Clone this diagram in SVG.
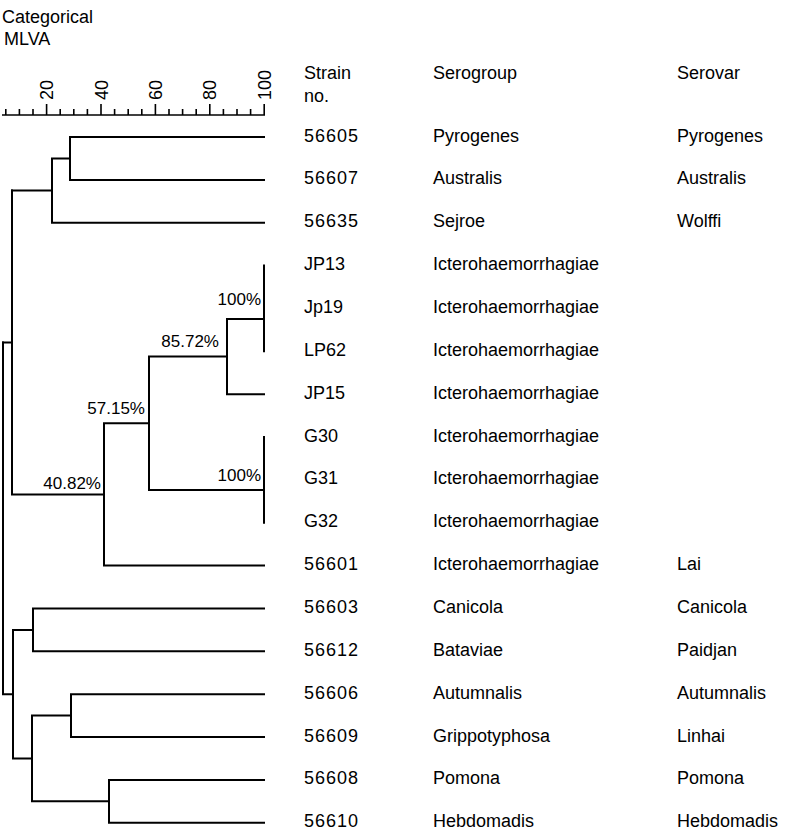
<svg xmlns="http://www.w3.org/2000/svg" width="786" height="832" viewBox="0 0 786 832">
<style>
text{font-family:"Liberation Sans",Arial,Helvetica,sans-serif;font-size:18px;fill:#000}
.s{letter-spacing:1px}
.pct{text-anchor:end;font-size:17px}
.ln{fill:none;stroke:#000;stroke-width:2;stroke-linecap:square}
.ax{fill:none;stroke:#000;stroke-width:1.6}
</style>
<rect width="786" height="832" fill="#fff"/>
<g id="title">
<text x="2" y="23">Categorical</text>
<text x="4" y="45">MLVA</text>
</g>
<g id="axis">
<path class="ax" d="M2 115H265"/>
<path class="ax" d="M5.8 115v-6M19.4 115v-6M33 115v-6M46.6 115v-11M60.2 115v-6M73.8 115v-6M87.4 115v-6M101 115v-11M114.6 115v-6M128.2 115v-6M141.8 115v-6M155.4 115v-11M169 115v-6M182.6 115v-6M196.2 115v-6M209.8 115v-11M223.4 115v-6M237 115v-6M250.6 115v-6M264.2 115v-11"/>
<text transform="translate(53.1 100) rotate(-90)">20</text>
<text transform="translate(107.5 100) rotate(-90)">40</text>
<text transform="translate(161.9 100) rotate(-90)">60</text>
<text transform="translate(216.3 100) rotate(-90)">80</text>
<text transform="translate(270.7 100) rotate(-90)">100</text>
</g>
<g id="headers">
<text x="304" y="79">Strain</text>
<text x="304" y="102">no.</text>
<text x="433" y="79">Serogroup</text>
<text x="677" y="79">Serovar</text>
</g>
<g id="connectors">
<path class="ln" d="M70 137H264M70 179.9H264M70 137V179.9M70 158.4H52M52 222.7H264M52 158.4V222.7M52 190.6H12"/>
<path class="ln" d="M264 265.6V351.3M227 319H264M227 394.2H264M227 319V394.2M227 356.6H149M149 490H264M264 437V522.7M149 356.6V490M149 423.3H104M104 565.6H264M104 423.3V565.6M104 494.5H12M12 190.6V494.5M12 342.5H3"/>
<path class="ln" d="M33 608.5H264M33 651.3H264M33 608.5V651.3M33 629.9H13M71 694.2H264M71 737H264M71 694.2V737M71 715.6H32M109 779.9H264M109 822.8H264M109 779.9V822.8M109 801.3H32M32 715.6V801.3M32 758.5H13M13 629.9V758.5M13 694.2H3M3 342.5V694.2"/>
</g>
<g id="support">
<text class="pct" x="261" y="305">100%</text>
<text class="pct" x="219" y="347">85.72%</text>
<text class="pct" x="145" y="414">57.15%</text>
<text class="pct" x="261" y="481">100%</text>
<text class="pct" x="101" y="489">40.82%</text>
</g>
<g id="row-56605"><text class="s" x="304" y="141.5">56605</text><text x="433" y="141.5">Pyrogenes</text><text x="677" y="141.5">Pyrogenes</text></g>
<g id="row-56607"><text class="s" x="304" y="184.4">56607</text><text x="433" y="184.4">Australis</text><text x="677" y="184.4">Australis</text></g>
<g id="row-56635"><text class="s" x="304" y="227.2">56635</text><text x="433" y="227.2">Sejroe</text><text x="677" y="227.2">Wolffi</text></g>
<g id="row-JP13"><text x="304" y="270.1">JP13</text><text x="433" y="270.1">Icterohaemorrhagiae</text></g>
<g id="row-Jp19"><text x="304" y="312.9">Jp19</text><text x="433" y="312.9">Icterohaemorrhagiae</text></g>
<g id="row-LP62"><text x="304" y="355.8">LP62</text><text x="433" y="355.8">Icterohaemorrhagiae</text></g>
<g id="row-JP15"><text x="304" y="398.7">JP15</text><text x="433" y="398.7">Icterohaemorrhagiae</text></g>
<g id="row-G30"><text x="304" y="441.5">G30</text><text x="433" y="441.5">Icterohaemorrhagiae</text></g>
<g id="row-G31"><text x="304" y="484.4">G31</text><text x="433" y="484.4">Icterohaemorrhagiae</text></g>
<g id="row-G32"><text x="304" y="527.2">G32</text><text x="433" y="527.2">Icterohaemorrhagiae</text></g>
<g id="row-56601"><text class="s" x="304" y="570.1">56601</text><text x="433" y="570.1">Icterohaemorrhagiae</text><text x="677" y="570.1">Lai</text></g>
<g id="row-56603"><text class="s" x="304" y="613">56603</text><text x="433" y="613">Canicola</text><text x="677" y="613">Canicola</text></g>
<g id="row-56612"><text class="s" x="304" y="655.8">56612</text><text x="433" y="655.8">Bataviae</text><text x="677" y="655.8">Paidjan</text></g>
<g id="row-56606"><text class="s" x="304" y="698.7">56606</text><text x="433" y="698.7">Autumnalis</text><text x="677" y="698.7">Autumnalis</text></g>
<g id="row-56609"><text class="s" x="304" y="741.5">56609</text><text x="433" y="741.5">Grippotyphosa</text><text x="677" y="741.5">Linhai</text></g>
<g id="row-56608"><text class="s" x="304" y="784.4">56608</text><text x="433" y="784.4">Pomona</text><text x="677" y="784.4">Pomona</text></g>
<g id="row-56610"><text class="s" x="304" y="827.2">56610</text><text x="433" y="827.2">Hebdomadis</text><text x="677" y="827.2">Hebdomadis</text></g>
</svg>
